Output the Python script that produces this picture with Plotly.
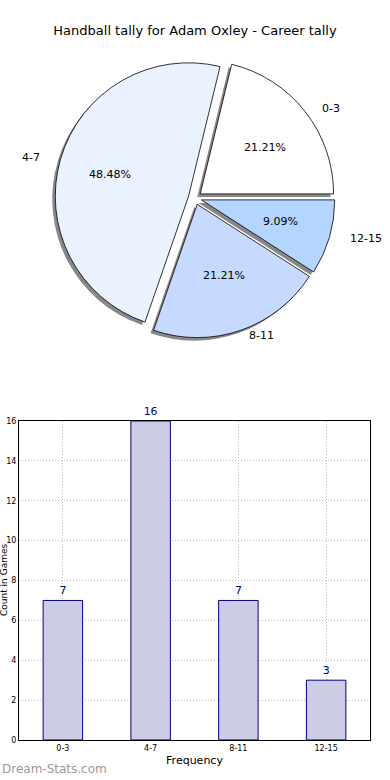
import math
import plotly.graph_objects as go

categories = ["0-3", "4-7", "8-11", "12-15"]
counts = [7, 16, 7, 3]
pie_colors = ["#FFFFFF", "#EAF1FF", "#C6D9FF", "#B3D5FF"]
y_ticks = [0, 2, 4, 6, 8, 10, 12, 14, 16]

W, H = 390, 780
ML, MR, MT, MB = 19, 20, 0, 40
ph = H - MT - MB
pw = W - ML - MR

def px_y(y):
    return 1 - (y - MT) / ph

def px_x(x):
    return (x - ML) / pw

total = sum(counts)
# matplotlib-style start: first slice begins at 3 o'clock and runs counterclockwise
rotation = 90 - 360 * counts[0] / total

fig = go.Figure()

# pie geometry (pixels)
CX, CY = 195, 198
PIE_HALF = 140
pie_dom_x = [px_x(CX - PIE_HALF), px_x(CX + PIE_HALF)]
pie_dom_y = [px_y(CY + PIE_HALF), px_y(CY - PIE_HALF)]
shadow_dx, shadow_dy = -3 / pw, -3 / ph
PULL = 0.05

common = dict(labels=categories, values=counts, sort=False, direction="counterclockwise",
              rotation=rotation, pull=PULL, textinfo="none", showlegend=False)

# shadow
fig.add_trace(go.Pie(
    **common,
    marker=dict(colors=["#888888"] * 4, line=dict(width=0)),
    hoverinfo="skip",
    domain=dict(x=[pie_dom_x[0] + shadow_dx, pie_dom_x[1] + shadow_dx],
                y=[pie_dom_y[0] + shadow_dy, pie_dom_y[1] + shadow_dy]),
))
# main pie
fig.add_trace(go.Pie(
    **common,
    marker=dict(colors=pie_colors, line=dict(color="#000000", width=0.8)),
    domain=dict(x=pie_dom_x, y=pie_dom_y),
))

# labels and percentages placed like matplotlib (labeldistance / pctdistance)
LAB_RX, LAB_RY = 159, 145
PCT_RX, PCT_RY = 89, 82
cum = 0
for cat, v in zip(categories, counts):
    mid = math.radians(360 * (cum + v / 2) / total)
    cum += v
    c, s = math.cos(mid), math.sin(mid)
    lx, ly = CX + LAB_RX * c, CY - LAB_RY * s
    fig.add_annotation(text=cat, xref="paper", yref="paper", x=px_x(lx), y=px_y(ly),
                       showarrow=False, xanchor="left" if c > 0 else "right", yanchor="middle",
                       font=dict(family="DejaVu Sans", size=11, color="#000000"))
    tx, ty = CX + PCT_RX * c, CY - PCT_RY * s
    fig.add_annotation(text=f"{100 * v / total:.2f}%", xref="paper", yref="paper",
                       x=px_x(tx), y=px_y(ty), showarrow=False, xanchor="center", yanchor="middle",
                       font=dict(family="DejaVu Sans", size=11, color="#000000"))

fig.add_trace(go.Bar(
    x=categories, y=counts, width=0.45,
    marker=dict(color="#CCCCE6", line=dict(color="#000080", width=1)),
    text=[str(c) for c in counts], textposition="outside",
    textfont=dict(family="DejaVu Sans", size=11, color="#000080"),
    cliponaxis=False, showlegend=False,
))

fig.update_layout(
    width=W, height=H,
    margin=dict(l=ML, r=MR, t=MT, b=MB),
    paper_bgcolor="white", plot_bgcolor="white",
    font=dict(family="DejaVu Sans", color="#000000"),
    title=dict(text="Handball tally for Adam Oxley - Career tally", x=0.5, xref="container",
               xanchor="center", y=1 - 30 / H, yanchor="middle",
               font=dict(size=13, color="#000000")),
    xaxis=dict(domain=[0, 1], showgrid=True, gridcolor="#BBBBBB", griddash="1px,2px", gridwidth=1,
               showline=True, mirror=True, linecolor="#000000", linewidth=1, automargin=False,
               ticks="", tickfont=dict(size=8), title=dict(text="Frequency", font=dict(size=11), standoff=4)),
    yaxis=dict(domain=[0, px_y(421)], range=[0, 16], tickvals=y_ticks, showgrid=True,
               gridcolor="#BBBBBB", griddash="1px,2px", gridwidth=1, zeroline=False, automargin=False,
               showline=True, mirror=True, linecolor="#000000", linewidth=1,
               ticks="", tickfont=dict(size=8)),
    bargap=0.55,
)

fig.add_annotation(text="Count in Games", textangle=-90, xref="paper", yref="paper",
                   x=px_x(4), y=px_y(580), showarrow=False, xanchor="center", yanchor="middle",
                   font=dict(size=9, color="#000000"))
fig.add_annotation(text="Dream-Stats.com", xref="paper", yref="paper",
                   x=px_x(0), y=px_y(769), showarrow=False, xanchor="left", yanchor="middle",
                   font=dict(size=12, color="#999999", family="DejaVu Sans"))

fig.write_html("out.html", config={"displayModeBar": False},
               post_script="document.body.style.margin='0px';document.body.style.overflow='hidden';")
